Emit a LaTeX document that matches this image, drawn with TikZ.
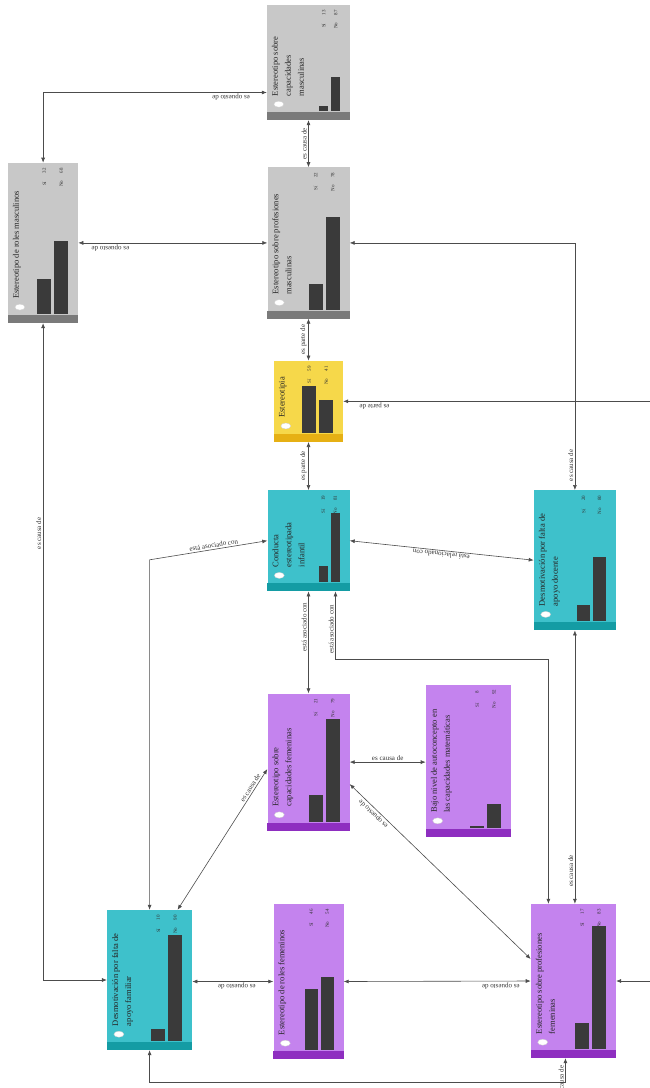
\documentclass[tikz,border=0pt]{standalone}
\usepackage{fontspec}
\setmainfont{Liberation Serif}
\usetikzlibrary{shapes,arrows,arrows.meta,positioning,fit,calc}

\definecolor{grisfondo}{HTML}{C8C8C8}
\definecolor{grisbarra}{HTML}{7A7A7A}
\definecolor{amarillo}{HTML}{F6D84A}
\definecolor{amarillobarra}{HTML}{E6B014}
\definecolor{turquesa}{HTML}{3EC1CB}
\definecolor{turquesabarra}{HTML}{149CA4}
\definecolor{violeta}{HTML}{C483EE}
\definecolor{violetabarra}{HTML}{8E2EC0}
\definecolor{barra}{HTML}{3A3A3A}

% inside of a variable box: name, text, bar 1, bar 2, value 1, value 2, strip colour, bar width
\newcommand{\caja}[8]{%
  \fill[#7] (#1.south west) rectangle ([shift={(0,-8)}]#1.south east);
  \filldraw[fill=white, draw=black!20, line width=0.3pt] ([shift={(12,-16)}]#1.south west) ellipse (5pt and 3pt);
  \node[etiqueta, anchor=north west] (#1-t) at ([shift={(5,-24)}]#1.south west) {#2};
  \fill[barra] ([shift={(-10,-9)}]#1.south east) rectangle ++(-#8,-#4);
  \fill[barra] ([shift={({-13-#8},-9)}]#1.south east) rectangle ++(-#8,-#3);
  \node[valor] (#1-a) at ([shift={({-13-1.5*#8},8)}]#1.north east) {#5};
  \node[valor] (#1-b) at ([shift={({-10-0.5*#8},8)}]#1.north east) {#6};
  \node[valor] (#1-c) at ([shift={({-13-1.5*#8},21)}]#1.north east) {Sí};
  \node[valor] (#1-d) at ([shift={({-10-0.5*#8},21)}]#1.north east) {No};
}

\begin{document}
\begin{tikzpicture}[x=1pt, y=-1pt,
        >={Latex[length=5pt,width=4pt]},
        grisbox/.style={rectangle, fill=grisfondo, inner sep=0pt},
        amarillobox/.style={rectangle, fill=amarillo, inner sep=0pt},
        turquesabox/.style={rectangle, fill=turquesa, inner sep=0pt},
        violetabox/.style={rectangle, fill=violeta, inner sep=0pt},
        tam/.style 2 args={minimum width=#1pt, minimum height=#2pt},
        etiqueta/.style={rotate=90, font=\fontsize{8.5}{13}\selectfont, align=left, inner sep=0pt, text=black!85},
        valor/.style={rotate=90, font=\fontsize{5}{5}\selectfont, inner sep=0pt, text=black!80},
        enlace/.style={<->, draw=black!70, line width=0.6pt},
        rotulo/.style={font=\fontsize{7}{8}\selectfont, inner sep=1.5pt, text=black!80}
    ]
    \useasboundingbox (0,0) rectangle (650,1088);
    \clip (0,0) rectangle (650,1088);

    % masculine stereotypes
    \node[grisbox, tam={83}{115}] (capmasc) at (308.5,62.5) {};
    \node[grisbox, tam={82}{151}, below=47pt of capmasc] (profmasc) {};
    \node[grisbox, tam={70}{160}, left=189pt of profmasc] (rolmasc) {};

    % central column
    \node[amarillobox, tam={69}{81}, below=42pt of profmasc] (estereo) {};
    \node[turquesabox, tam={82}{101}, below=48pt of estereo] (conducta) {};
    \node[turquesabox, tam={82}{140}, right=184pt of conducta.north east, anchor=north west] (docente) {};

    % feminine stereotypes
    \node[violetabox, tam={82}{137}, below=102pt of conducta] (capfem) {};
    \node[violetabox, tam={85}{152}, right=76pt of capfem.north east, anchor=north west, yshift=9pt] (autocon) {};
    \node[violetabox, tam={70}{155}, below=73pt of capfem] (rolfem) {};
    \node[turquesabox, tam={85}{140}, left=81pt of rolfem.north west, anchor=north east, yshift=-6pt] (familiar) {};
    \node[violetabox, tam={85}{154}, right=187pt of rolfem.north east, anchor=north west] (proffem) {};

    \caja{capmasc}{Estereotipo sobre\\capacidades\\masculinas}{5}{34}{13}{87}{grisbarra}{9}
    \caja{profmasc}{Estereotipo sobre profesiones\\masculinas}{26}{93}{22}{78}{grisbarra}{14}
    \caja{rolmasc}{Estereotipo de roles masculinos}{35}{73}{32}{68}{grisbarra}{14}
    \caja{estereo}{Estereotipia}{47}{33}{59}{41}{amarillobarra}{14}
    \caja{conducta}{Conducta\\estereotipada\\infantil}{16}{69}{19}{81}{turquesabarra}{9}
    \caja{docente}{Desmotivación por falta de\\apoyo docente}{16}{64}{20}{80}{turquesabarra}{13}
    \caja{capfem}{Estereotipo sobre\\capacidades femeninas}{27}{103}{21}{79}{violetabarra}{14}
    \caja{autocon}{Bajo nivel de autoconcepto en\\las capacidades matemáticas}{2}{24}{8}{92}{violetabarra}{14}
    \caja{rolfem}{Estereotipo de roles femeninos}{61}{73}{46}{54}{violetabarra}{13}
    \caja{familiar}{Desmotivación por falta de\\apoyo familiar}{12}{106}{10}{90}{turquesabarra}{14}
    \caja{proffem}{Estereotipo sobre profesiones\\femeninas}{26}{123}{17}{83}{violetabarra}{14}

    % connections
    \coordinate (c1) at ($(familiar.north)+(0,-350)$);
    \coordinate (c2) at ($(proffem.north)+(-25,-245)$);

    \draw[enlace] ([yshift=-30pt]capmasc.west) -| (rolmasc.north) node[rotulo, pos=0.08, rotate=180, anchor=south] {es opuesto de};
    \draw[enlace] (capmasc.south) -- (profmasc.north) node[rotulo, midway, rotate=90, anchor=south] {es causa de};
    \draw[enlace] (profmasc.west) -- (profmasc.west -| rolmasc.east) node[rotulo, pos=0.83, rotate=180, anchor=south] {es opuesto de};
    \draw[enlace] (profmasc.south) -- (estereo.north) node[rotulo, midway, rotate=90, anchor=south] {es parte de};
    \draw[enlace] (estereo.south) -- (conducta.north) node[rotulo, midway, rotate=90, anchor=south] {es parte de};
    \draw[enlace] (proffem.east) -- ++(40,0) |- (estereo.east) node[rotulo, pos=0.95, rotate=180, anchor=south] {es parte de};
    \draw[enlace] (docente.north) |- (profmasc.east) node[rotulo, pos=0.05, rotate=90, anchor=south] {es causa de};
    \draw[enlace] (docente.west) -- (conducta.east) node[rotulo, midway, sloped, allow upside down, above] {está relacionado con};
    \draw[enlace] (familiar.north) -- (c1) -- (conducta.west) node[rotulo, pos=0.55, sloped, above] {está asociado con};
    \draw[enlace] (conducta.south) -- (capfem.north) node[rotulo, pos=0.35, rotate=90, anchor=south] {está asociado con};
    \draw[enlace] ([xshift=27pt]conducta.south) |- (c2) node[rotulo, pos=0.28, rotate=90, anchor=south] {está asociado con} -- ([xshift=-25pt]proffem.north);
    \draw[enlace] (docente.south) -- (docente.south |- proffem.north) node[rotulo, pos=0.88, rotate=90, anchor=south] {es causa de};
    \draw[enlace] (capfem.east) -- (capfem.east -| autocon.west) node[rotulo, midway, above] {es causa de};
    \draw[enlace] ([xshift=28pt]familiar.north) -- ([yshift=-7pt]capfem.west) node[rotulo, pos=0.85, sloped, above] {es causa de};
    \draw[enlace] ([yshift=22pt]proffem.west) -- ([yshift=-22pt]capfem.east) node[rotulo, pos=0.85, sloped, allow upside down, above] {es opuesto de};
    \draw[enlace] (rolfem.west) -- (rolfem.west -| familiar.east) node[rotulo, pos=0.45, rotate=180, anchor=south] {es opuesto de};
    \draw[enlace] (rolfem.east) -- (proffem.west) node[rotulo, pos=0.84, rotate=180, anchor=south] {es opuesto de};
    \draw[enlace] (rolmasc.south) |- (familiar.west) node[rotulo, pos=0.16, rotate=90, anchor=south] {es causa de};
    \draw[enlace] (familiar.south) -- ++(0,32) -| ([xshift=-8pt]proffem.south) node[rotulo, pos=0.88, rotate=90, anchor=south east] {es causa de};

\end{tikzpicture}
\end{document}
